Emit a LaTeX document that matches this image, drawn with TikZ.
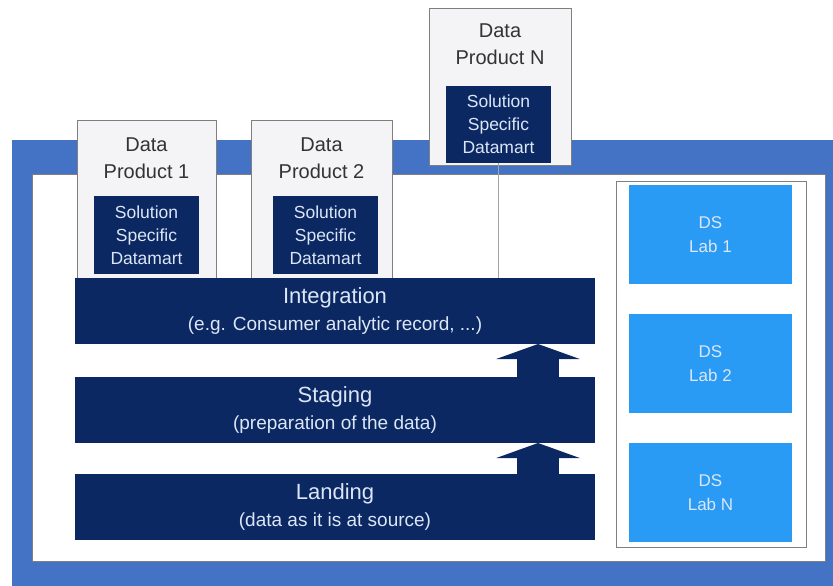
\documentclass[tikz,border=0pt]{standalone}
\usepackage{fontspec}
\setmainfont{Liberation Sans}
\usetikzlibrary{arrows.meta}
\definecolor{navy}{HTML}{0B2862}
\definecolor{frameblue}{HTML}{4472C4}
\definecolor{labblue}{HTML}{2A9BF5}
\definecolor{dpfill}{HTML}{F4F4F6}
\definecolor{edgegray}{HTML}{7F7F7F}
\definecolor{lighttext}{HTML}{DCE6F6}
\begin{document}
\begin{tikzpicture}[x=1pt,y=-1pt]
\tikzset{
  nw/.style={anchor=north west, inner sep=0pt, outer sep=0pt, align=center},
  dpbox/.style={nw, draw=edgegray, line width=1pt, fill=dpfill},
  dplabel/.style={anchor=north, inner sep=0pt, align=center, text=black!80, font=\fontsize{20}{27}\selectfont},
  martbox/.style={nw, fill=navy, minimum width=105pt, minimum height=78pt, text=lighttext, font=\fontsize{17.5}{23}\selectfont},
  layerbox/.style={nw, fill=navy, minimum width=520pt, minimum height=66pt, text=lighttext, font=\fontsize{19}{27}\selectfont},
  ltitle/.style={font=\fontsize{22}{27}\selectfont},
  labbox/.style={nw, fill=labblue, minimum width=163pt, minimum height=99pt, text=lighttext, font=\fontsize{17}{24}\selectfont},
  uparrow/.style={draw=navy, line width=42pt, -{Triangle[width=83pt,length=15pt]}},
  link/.style={draw=edgegray!70, line width=0.8pt}
}
\useasboundingbox (0,0) rectangle (833,586);
% frame
\fill[frameblue] (12,140) rectangle (833,586);
\draw[fill=white, draw=edgegray, line width=0.8pt] (32,174) rectangle (825,561);

% data products
\node[dpbox, minimum width=139pt, minimum height=158pt,
  label={[dplabel, yshift=-18pt]north:Data\\Product 1}] (dp1) at (77,120) {};
\node[dpbox, minimum width=141pt, minimum height=158pt,
  label={[dplabel, yshift=-18pt]north:Data\\Product 2}] (dp2) at (251,120) {};
\node[dpbox, minimum width=142pt, minimum height=156pt,
  label={[dplabel, yshift=-15pt]north:Data\\Product N}] (dpn) at (429,9) {};

\node[martbox] (m1) at (94,196) {Solution\\Specific\\Datamart};
\node[martbox] (m2) at (273,196) {Solution\\Specific\\Datamart};
\node[martbox, minimum height=77pt] (mn) at (446,86) {Solution\\Specific\\Datamart};

% layers
\node[layerbox] (integ) at (75,278) {{\fontsize{22}{27}\selectfont Integration}\\(e.g. Consumer analytic record, ...)};
\node[layerbox] (stag) at (75,377) {{\fontsize{22}{27}\selectfont Staging}\\(preparation of the data)};
\node[layerbox] (land) at (75,474) {{\fontsize{22}{27}\selectfont Landing}\\(data as it is at source)};

% link from data product N
\draw[link] (mn.south -| 498,0) -- (integ.north -| 498,0);

% arrows
\draw[uparrow] (stag.north -| 538,0) -- (integ.south -| 538,0);
\draw[uparrow] (land.north -| 538,0) -- (stag.south -| 538,0);

% labs
\draw[draw=edgegray, line width=1pt] (616,181) rectangle (806,547);
\node[labbox] (lab1) at (629,185) {DS\\Lab 1};
\node[labbox] (lab2) at (629,314) {DS\\Lab 2};
\node[labbox] (labn) at (629,443) {DS\\Lab N};
\end{tikzpicture}
\end{document}
